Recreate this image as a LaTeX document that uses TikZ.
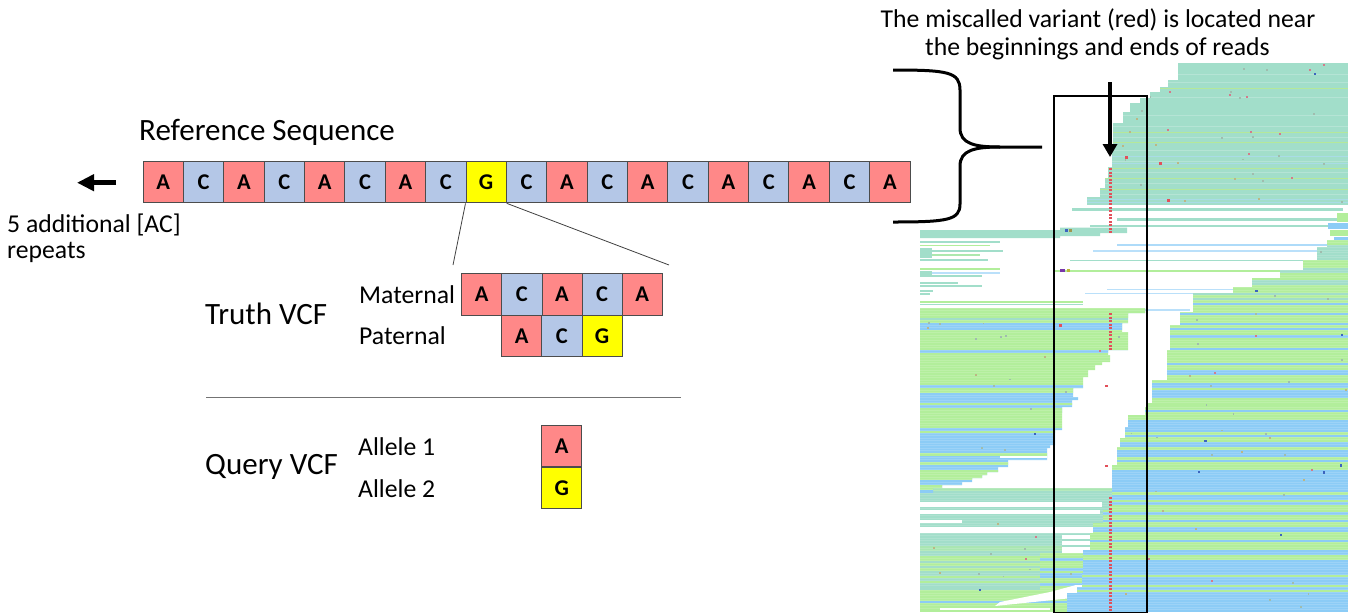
\documentclass[tikz,border=0pt]{standalone}
\usepackage{fontspec}
\setmainfont{Carlito}
\usetikzlibrary{arrows.meta}
\definecolor{cA}{RGB}{255,136,136}
\definecolor{cC}{RGB}{180,199,231}
\definecolor{cG}{RGB}{255,255,0}
\definecolor{pteal}{RGB}{162,222,202}
\definecolor{pgreen}{RGB}{178,238,155}
\definecolor{pblue}{RGB}{140,204,246}
\definecolor{pred}{RGB}{226,80,90}
\definecolor{dA}{RGB}{60,100,190}
\definecolor{dB}{RGB}{120,160,140}
\definecolor{dC}{RGB}{200,90,110}
\definecolor{dD}{RGB}{160,150,80}
\newcommand\pstripes[7]{%
  \fill[#5] (#1,#3) rectangle (#2,#4);
  \pgfmathtruncatemacro\nst{(#4-#3)/2.5-1}%
  \foreach \k in {0,...,\nst}{%
    \pgfmathsetmacro\yy{#3+2.5*\k}%
    \pgfmathtruncatemacro\rr{rnd<#7?1:0}%
    \ifnum\rr=1 \fill[#6] (#1,\yy) rectangle (#2,\yy+2.5);\fi
    \draw[white,opacity=.15,line width=.4] (#1,\yy) -- (#2,\yy);
  }}
\newcommand\pdots[5]{%
  \foreach \k in {1,...,#5}{%
    \pgfmathsetmacro\dx{#1+rnd*(#2-#1)}%
    \pgfmathsetmacro\dy{#3+rnd*(#4-#3)}%
    \pgfmathtruncatemacro\dc{int(rnd*8)}%
    \ifcase\dc \fill[dA] (\dx,\dy) rectangle ++(2.2,2.2);
    \or \fill[dC!80] (\dx,\dy) rectangle ++(2,2);
    \or \fill[dD!70] (\dx,\dy) rectangle ++(2,2);
    \else \fill[dB!70] (\dx,\dy) rectangle ++(1.8,1.8);\fi
  }}
\tikzset{
  nb/.style={draw=black!70, line width=0.9, minimum width=40.37, minimum height=41.8, inner sep=0,
             font=\fontsize{22.5}{24}\selectfont\bfseries},
  nbA/.style={nb, fill=cA}, nbC/.style={nb, fill=cC}, nbG/.style={nb, fill=cG},
  mb/.style={minimum width=40.12},
  big/.style={inner sep=0, font=\fontsize{31}{37}\selectfont},
  mid/.style={inner sep=0, font=\fontsize{25.7}{31}\selectfont},
  thinline/.style={draw=black!75, line width=0.8},
  fatarrow/.style={line width=5, -{Triangle[length=17, width=16]}},
}
\begin{document}
\begin{tikzpicture}[x=1pt, y=-1pt]
\useasboundingbox (0,0) rectangle (1354,614);
\pgfmathsetseed{11}
% ---------- pileup (scene) ----------
\def\regT{(1178,63) -- (1348,63) -- (1348,205) -- (1087,205) -- (1087,197) -- (1100,197) -- (1100,188) -- (1105,188) -- (1105,178) -- (1108,178) -- (1108,167) -- (1112,167) -- (1112,152) -- (1113,152) -- (1113,123) -- (1123,123) -- (1123,112) -- (1130,112) -- (1130,103) -- (1140,103) -- (1140,98) -- (1150,98) -- (1150,92) -- (1160,92) -- (1160,87) -- (1168,87) -- (1168,80) -- (1178,80) -- cycle}
\def\regR{(1348,240) -- (1348,612) -- (1067,612) -- (1067,593) -- (1077,593) -- (1077,587) -- (1082,587) -- (1082,573) -- (1083,573) -- (1083,550) -- (1090,550) -- (1090,533) -- (1093,533) -- (1093,523) -- (1103,523) -- (1103,510) -- (1110,510) -- (1110,497) -- (1112,497) -- (1112,465) -- (1117,465) -- (1117,447) -- (1120,447) -- (1120,438) -- (1125,438) -- (1125,427) -- (1128,427) -- (1128,415) -- (1145,415) -- (1145,407) -- (1148,407) -- (1148,403) -- (1152,403) -- (1152,380) -- (1167,380) -- (1167,350) -- (1170,350) -- (1170,325) -- (1180,325) -- (1180,312) -- (1193,312) -- (1193,293) -- (1233,293) -- (1233,287) -- (1252,287) -- (1252,278) -- (1280,278) -- (1280,270) -- (1303,270) -- (1303,260) -- (1317,260) -- (1317,247) -- (1327,247) -- (1327,240) -- cycle}
\def\regLM{(920,308) -- (1145,308) -- (1145,313) -- (1128,313) -- (1128,323) -- (1122,323) -- (1122,332) -- (1128,332) -- (1128,350) -- (1108,350) -- (1108,355) -- (1110,355) -- (1110,362) -- (1102,362) -- (1102,365) -- (1095,365) -- (1095,370) -- (1088,370) -- (1088,377) -- (1083,377) -- (1083,388) -- (1073,388) -- (1073,397) -- (1078,397) -- (1078,400) -- (1072,400) -- (1072,407) -- (1062,407) -- (1062,430) -- (1055,430) -- (1055,445) -- (1050,445) -- (1050,448) -- (1047,448) -- (1047,460) -- (1008,460) -- (1008,467) -- (998,467) -- (998,472) -- (987,472) -- (987,475) -- (982,475) -- (982,478) -- (972,478) -- (972,482) -- (962,482) -- (962,485) -- (942,485) -- (942,488) -- (933,488) -- (933,493) -- (920,493) -- cycle}
% top teal block
\begin{scope}
  \clip \regT;
  \fill[pteal] (1080,63) rectangle (1348,205);
  \foreach \yy in {74,82,97,115,126,137,150,161,172,183,194}
    \fill[pteal!80!white] (1080,\yy) rectangle (1348,\yy+0.9);
  \foreach \yy in {88,132,142,168,178,189}
    \fill[pgreen!70!yellow,opacity=.5] (1080,\yy) rectangle (1348,\yy+0.9);
  \foreach \yy in {156,163,199,202}
    \fill[pblue!70,opacity=.6] (1080,\yy) rectangle (1348,\yy+1);
  \pdots{1090}{1345}{63}{205}{45}
\end{scope}
% thin reads below the top block
\fill[pteal] (1072,207.5) rectangle (1343,210.5);
\fill[pteal] (1117,217.5) rectangle (1338,221);
\fill[pgreen] (1337,213) rectangle (1348,222);
\fill[pteal] (1090,224.5) rectangle (1333,226.5);
\fill[pteal] (920,230) -- (1060,230) -- (1060,227.5) -- (1127,227.5) -- (1127,233) -- (1100,233) -- (1100,236) -- (1060,236) -- (1060,238) -- (920,238) -- cycle;
\fill[pblue] (1328,223) rectangle (1348,229);
\fill[pgreen] (1330,230) rectangle (1348,236);
\fill[pblue] (1334,237) rectangle (1348,241);
\fill[dA] (1065,229) rectangle ++(3,3);
\fill[dD] (1069,229) rectangle ++(3,3);
% left thin reads
\fill[pteal] (920,241) rectangle (1000,243);
\fill[pgreen] (920,244.5) rectangle (990,246);
\fill[pteal] (920,248) rectangle (932,258);
\fill[pteal] (932,250) rectangle (1003,252);
\fill[pgreen!60!pteal] (932,254) rectangle (980,256);
\fill[pteal] (920,259) rectangle (988,261);
\fill[pgreen] (920,268) rectangle (1000,269.5);
\fill[pteal] (920,271) rectangle (932,277);
\fill[pblue!60] (932,272) rectangle (1000,273.5);
\fill[pteal] (932,275) rectangle (982,277);
\fill[pteal] (920,282) rectangle (958,283.5);
\fill[pteal] (920,285) rectangle (982,287);
\fill[pteal] (920,290) rectangle (933,291.5);
\fill[pteal] (920,293) rectangle (930,294.5);
\fill[pgreen] (920,301) rectangle (1083,302.5);
\fill[pteal] (920,303.5) rectangle (1083,305);
% middle thin reads
\fill[pblue!70] (1117,244) rectangle (1327,245.5);
\fill[pblue!60] (1093,250) rectangle (1317,251.5);
\fill[pteal] (1070,259.5) rectangle (1310,261);
\fill[pgreen] (1055,269.5) rectangle (1303,271.5);
\fill[dC!60!blue] (1060,269) rectangle ++(5,3);
\fill[dD!70!yellow] (1067,269) rectangle ++(3,3);
\fill[pblue!60] (1107,288.5) rectangle (1233,290);
\fill[pblue!60] (1085,292.5) rectangle (1193,294);
\fill[pblue!60] (1133,309) rectangle (1190,310.5);
% lower-left teal block
\begin{scope}
  \clip (920,488) rectangle (1112,612);
  \pstripes{920}{1112}{488}{553}{pteal}{pgreen!50!pteal}{0.12}
  \pstripes{920}{1112}{553}{612}{pgreen}{pblue}{0.45}
  \pstripes{920}{1040}{553}{590}{pteal}{pgreen}{0.3}
  \pdots{925}{1100}{490}{610}{18}
  \fill[white] (920,502) rectangle (1102,507);
  \fill[white] (920,510) rectangle (1100,513.5);
  \fill[white] (920,520) rectangle (962,523);
  \fill[white] (920,527) rectangle (1102,533);
  \fill[white] (1062,535) rectangle (1100,553);
  \fill[pteal] (1062,539) rectangle (1095,540.5);
  \fill[pteal] (1062,545) rectangle (1090,546.5);
  \fill[white] (1076,585) -- (1086,585) -- (1072,598) -- (995,606) -- (1000,602) -- (1050,592) -- cycle;
  \fill[white] (940,607.5) rectangle (1050,609.5);
\end{scope}
% right green / blue block
\begin{scope}
  \clip \regR;
  \pstripes{1060}{1348}{240}{300}{pteal}{pgreen}{0.5}
  \pstripes{1060}{1348}{300}{407}{pgreen}{pblue}{0.3}
  \pstripes{1060}{1348}{407}{612}{pblue}{pgreen}{0.3}
  \pdots{1070}{1345}{245}{610}{60}
\end{scope}
% left-middle block
\begin{scope}
  \clip \regLM;
  \pstripes{920}{1150}{308}{320}{pteal}{pgreen}{0.5}
  \pstripes{920}{1150}{320}{355}{pgreen}{pblue}{0.35}
  \pstripes{920}{1150}{355}{385}{pgreen}{pblue}{0.15}
  \pstripes{920}{1150}{385}{413}{pblue}{pgreen}{0.5}
  \pstripes{920}{1150}{413}{428}{pgreen}{pblue}{0.05}
  \pstripes{920}{1150}{428}{457}{pblue}{pgreen}{0.1}
  \pstripes{920}{1150}{457}{493}{pblue}{pgreen}{0.45}
  \pdots{925}{1120}{310}{490}{25}
\end{scope}
\fill[white] (1000,456) rectangle (1047,458);
% miscalled variant column
\foreach \yy in {168,171.5,...,234} {\fill[pred] (1108.8,\yy) rectangle ++(3,2.3);}
\foreach \yy in {313,316.5,...,350} {\fill[pred] (1108.8,\yy) rectangle ++(3,2.3);}
\foreach \yy in {497,500.5,...,610} {\fill[pred] (1108.8,\yy) rectangle ++(3,2.3);}
\fill[pred] (1104.5,385) rectangle ++(3,2);
\fill[pred] (1105,465) rectangle ++(3,2);
\fill[pred] (1124.5,156) rectangle ++(3,3);
\fill[pred] (1159,162) rectangle ++(3,3);
\fill[pred] (1167,199) rectangle ++(3,3);
\fill[pred] (1059,324) rectangle ++(3,3);
% highlight box and arrow
\draw[line width=1.6] (1054,96) rectangle (1147,612.5);
\coordinate (da1) at (1110,82);
\coordinate (da2) at (1110,157);
\draw[line width=4, -{Triangle[length=13, width=14]}] (da1) -- (da2);
% brace
\draw[line width=3] (893,70) .. controls (948,70) and (960,72) .. (960,90) -- (960,128)
  .. controls (960,144) and (975,147) .. (1000,147) -- (1042,147);
\draw[line width=3] (1000,147) .. controls (975,147) and (960,150) .. (960,166) -- (960,204)
  .. controls (960,220) and (948,222) .. (893,222);
\node[mid, anchor=base] (tTop1) at (1098,27) {The miscalled variant (red) is located near};
\node[mid, anchor=base] (tTop2) at (1097.5,55) {the beginnings and ends of reads};
% ---------- left part ----------
\node[big, anchor=base west] (tRef) at (139,140.7) {Reference Sequence};
\foreach \l [count=\i from 0] in {A,C,A,C,A,C,A,C,G,C,A,C,A,C,A,C,A,C,A}
  \node[nb\l] (r\i) at ({163.18+40.37*\i},182) {\l};
\coordinate (la1) at (116,182.7);
\coordinate (la2) at (77,182.7);
\draw[fatarrow] (la1) -- (la2);
\node[mid, anchor=base west] (tRep1) at (7,232.7) {5 additional [AC]};
\node[mid, anchor=base west] (tRep2) at (7,258.3) {repeats};
\coordinate (zl) at (453,265);
\coordinate (zr) at (669,265);
\draw[thinline] (r8.south west) -- (zl);
\draw[thinline] (r8.south east) -- (zr);
\node[big, anchor=base west] (tTruth) at (205,324) {Truth VCF};
\node[mid, anchor=base west] (tMat) at (359,303) {Maternal};
\node[mid, anchor=base west] (tPat) at (359,344) {Paternal};
\foreach \l [count=\i from 0] in {A,C,A,C,A}
  \node[nb\l, mb] (m\i) at ({481.8+40.12*\i},294.2) {\l};
\foreach \l [count=\i from 0] in {A,C,G}
  \node[nb\l, mb] (p\i) at ({521.8+40.12*\i},335.9) {\l};
\coordinate (dv1) at (206,397.5);
\coordinate (dv2) at (681,397.5);
\draw[draw=black!55, line width=0.9] (dv1) -- (dv2);
\node[big, anchor=base west] (tQuery) at (205,474) {Query VCF};
\node[mid, anchor=base west] (tAl1) at (358,455) {Allele 1};
\node[mid, anchor=base west] (tAl2) at (358,497) {Allele 2};
\node[nbA, mb] (q1) at (561.7,446) {A};
\node[nbG, mb] (q2) at (561.7,488) {G};
\end{tikzpicture}
\end{document}
